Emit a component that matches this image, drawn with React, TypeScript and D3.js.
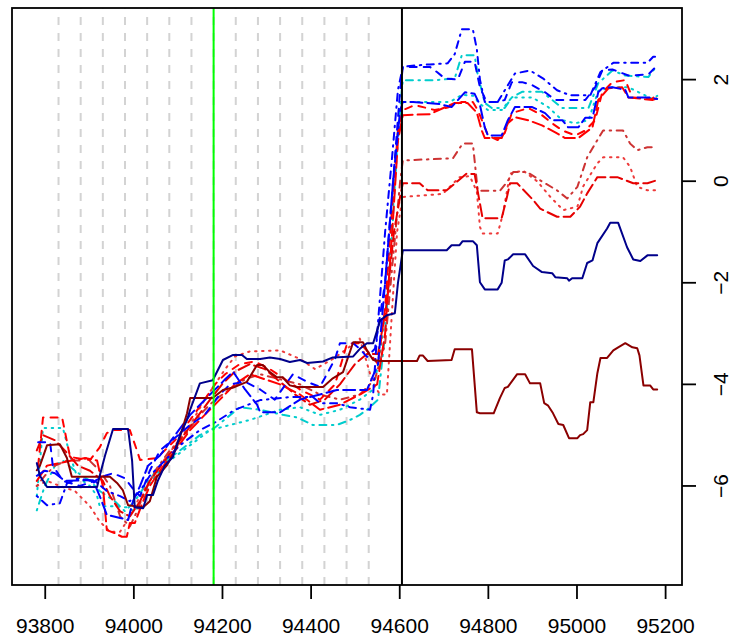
import React from "react";
import * as d3 from "d3";

type Pt = [number, number];

const xTicks = [93800, 94000, 94200, 94400, 94600, 94800, 95000, 95200];
const yTicks = [-6, -4, -2, 0, 2];
const grayLines = [93830, 93880, 93930, 93980, 94030, 94080, 94130, 94180, 94230, 94280, 94330, 94380, 94430, 94480, 94530];
const greenLine = 94180;
const blackLine = 94605;

const navySolid: Pt[] = [[93781,-5.55],[93788,-5.8],[93804,-6.02],[93917,-6.02],[93923,-5.8],[93935,-5.4],[93953,-4.88],[93987,-4.88],[93996,-5.5],[94002,-6.42],[94021,-6.44],[94030,-6.18],[94043,-6.18],[94054,-5.9],[94070,-5.6],[94088,-5.43],[94104,-5.0],[94120,-4.7],[94127,-4.5],[94149,-3.98],[94178,-3.92],[94201,-3.52],[94224,-3.42],[94244,-3.42],[94255,-3.5],[94285,-3.5],[94307,-3.47],[94330,-3.5],[94352,-3.56],[94375,-3.52],[94391,-3.58],[94427,-3.55],[94449,-3.47],[94495,-3.45],[94510,-3.3],[94526,-3.19],[94540,-3.19],[94556,-2.74],[94571,-2.64],[94589,-2.6],[94596,-2.0],[94607,-1.36],[94706,-1.36],[94717,-1.26],[94735,-1.26],[94742,-1.18],[94765,-1.18],[94774,-1.26],[94781,-1.99],[94792,-2.13],[94821,-2.13],[94830,-2.0],[94837,-1.56],[94844,-1.54],[94856,-1.44],[94883,-1.44],[94901,-1.67],[94921,-1.79],[94944,-1.81],[94951,-1.89],[94978,-1.91],[94982,-1.96],[94989,-1.91],[95012,-1.91],[95023,-1.61],[95035,-1.56],[95046,-1.22],[95068,-0.93],[95075,-0.82],[95093,-0.82],[95113,-1.3],[95127,-1.54],[95143,-1.57],[95159,-1.46],[95181,-1.46]];

const darkredSolid: Pt[] = [[93781,-5.69],[93788,-5.6],[93804,-5.2],[93833,-5.18],[93849,-5.45],[93860,-5.82],[93946,-5.82],[93962,-5.94],[93975,-6.08],[93987,-6.38],[94021,-6.42],[94036,-6.3],[94052,-5.82],[94075,-5.59],[94097,-5.24],[94120,-4.57],[94127,-4.27],[94178,-4.27],[94188,-4.2],[94201,-4.11],[94228,-4.05],[94255,-3.95],[94278,-3.62],[94291,-3.62],[94307,-3.76],[94323,-3.86],[94336,-3.86],[94352,-4.02],[94368,-4.05],[94427,-4.05],[94449,-3.88],[94472,-3.76],[94495,-3.17],[94517,-3.17],[94526,-3.33],[94540,-3.52],[94556,-3.54],[94639,-3.54],[94645,-3.43],[94652,-3.43],[94663,-3.54],[94717,-3.52],[94724,-3.31],[94763,-3.31],[94774,-4.55],[94781,-4.57],[94812,-4.57],[94826,-4.27],[94837,-4.07],[94844,-4.05],[94865,-3.8],[94883,-3.8],[94894,-3.98],[94917,-3.98],[94926,-4.37],[94935,-4.42],[94946,-4.57],[94958,-4.78],[94969,-4.8],[94982,-5.06],[95001,-5.06],[95007,-5.0],[95014,-4.98],[95023,-4.9],[95030,-4.35],[95037,-4.35],[95046,-3.78],[95053,-3.48],[95068,-3.48],[95082,-3.33],[95093,-3.27],[95109,-3.19],[95125,-3.27],[95136,-3.29],[95141,-3.43],[95150,-4.02],[95165,-4.02],[95172,-4.1],[95181,-4.1]];

const blueDotDash: Pt[] = [[93781,-6.2],[93804,-6.38],[93833,-6.34],[93849,-5.95],[93872,-5.86],[93912,-5.9],[93939,-6.1],[93969,-6.2],[93991,-6.3],[94014,-6.1],[94036,-5.8],[94070,-5.5],[94104,-5.2],[94149,-4.9],[94183,-4.75],[94228,-4.5],[94285,-4.31],[94352,-4.25],[94404,-4.25],[94420,-4.37],[94458,-4.37],[94488,-4.45],[94533,-4.5],[94540,-4.2],[94549,-3.0],[94567,-1.0],[94583,0.5],[94596,1.8],[94607,2.25],[94623,2.27],[94668,2.3],[94708,2.32],[94724,2.5],[94740,2.99],[94765,2.99],[94774,2.6],[94781,2.0],[94792,1.56],[94821,1.56],[94837,1.79],[94860,2.12],[94894,2.18],[94924,2.02],[94955,1.79],[94985,1.69],[95030,1.69],[95053,2.15],[95082,2.33],[95159,2.33],[95172,2.45],[95181,2.45]];

const blueDashed: Pt[] = [[93784,-5.14],[93811,-5.14],[93817,-5.6],[93840,-5.9],[93878,-6.0],[93912,-5.9],[93935,-5.8],[93953,-5.75],[93980,-5.85],[94002,-6.1],[94014,-6.2],[94036,-5.7],[94059,-5.3],[94093,-5.05],[94127,-4.8],[94160,-4.6],[94194,-4.2],[94217,-4.0],[94251,-3.95],[94285,-4.1],[94318,-4.3],[94359,-3.8],[94391,-3.95],[94420,-4.05],[94454,-3.5],[94465,-3.19],[94495,-3.19],[94510,-3.3],[94526,-3.46],[94544,-3.3],[94567,-2.0],[94585,0.0],[94601,1.8],[94607,2.25],[94668,2.25],[94684,2.15],[94702,2.02],[94731,2.0],[94747,2.35],[94769,2.35],[94781,1.85],[94796,1.56],[94821,1.56],[94837,1.6],[94853,1.95],[94876,1.95],[94899,1.89],[94928,1.75],[94951,1.6],[95019,1.6],[95041,1.85],[95057,2.18],[95080,2.2],[95116,2.08],[95161,2.1],[95181,2.28]];

const cyanDotDash: Pt[] = [[93781,-6.48],[93799,-6.0],[93822,-5.6],[93840,-5.5],[93867,-5.7],[93901,-5.9],[93923,-6.1],[93957,-6.3],[93980,-6.5],[94002,-6.3],[94025,-6.0],[94059,-5.6],[94104,-5.3],[94149,-5.0],[94183,-4.85],[94239,-4.45],[94285,-4.5],[94336,-4.6],[94368,-4.65],[94404,-4.8],[94458,-4.8],[94488,-4.7],[94510,-4.6],[94526,-4.5],[94551,-4.3],[94567,-3.0],[94583,-1.0],[94596,1.0],[94607,1.99],[94679,1.99],[94724,2.02],[94740,2.48],[94769,2.48],[94776,2.1],[94792,1.54],[94808,1.44],[94837,1.44],[94853,1.65],[94876,1.76],[94921,1.76],[94944,1.6],[94967,1.44],[95026,1.44],[95048,1.93],[95080,2.18],[95109,2.08],[95161,2.05],[95181,2.28]];

const blueLongDash: Pt[] = [[93781,-5.8],[93799,-5.7],[93822,-5.75],[93844,-5.9],[93878,-5.89],[93908,-5.89],[93923,-6.2],[93939,-6.57],[93969,-6.63],[93987,-6.67],[93998,-6.3],[94014,-6.0],[94032,-5.6],[94059,-5.4],[94093,-5.0],[94127,-4.6],[94172,-4.2],[94206,-3.9],[94224,-3.75],[94251,-4.1],[94278,-4.4],[94285,-4.55],[94330,-4.55],[94375,-4.3],[94420,-4.2],[94458,-4.11],[94526,-4.11],[94551,-3.6],[94567,-2.0],[94585,0.0],[94601,1.4],[94607,1.56],[94630,1.56],[94690,1.52],[94717,1.46],[94747,1.75],[94769,1.72],[94781,1.5],[94792,1.06],[94799,0.9],[94830,0.9],[94844,1.2],[94860,1.46],[94899,1.46],[94928,1.34],[94944,1.2],[94967,1.2],[94980,1.06],[95003,1.06],[95019,1.25],[95035,1.25],[95048,1.75],[95057,1.83],[95080,1.85],[95109,1.8],[95116,1.65],[95161,1.65],[95181,1.62]];

const cyanDotted: Pt[] = [[93781,-6.2],[93795,-4.86],[93840,-4.86],[93856,-5.4],[93872,-5.82],[93901,-6.0],[93917,-6.2],[93923,-6.4],[93957,-6.4],[93984,-6.42],[94002,-6.5],[94021,-6.2],[94048,-5.8],[94081,-5.5],[94127,-5.2],[94172,-4.9],[94217,-4.8],[94262,-4.7],[94330,-4.5],[94375,-4.45],[94420,-4.6],[94465,-4.5],[94510,-4.3],[94540,-4.1],[94556,-3.4],[94574,-2.0],[94589,0.0],[94601,1.3],[94607,1.56],[94713,1.56],[94740,1.7],[94769,1.68],[94776,1.56],[94799,1.4],[94830,1.4],[94853,1.65],[94899,1.65],[94935,1.46],[94967,1.2],[94996,1.14],[95026,1.2],[95048,1.78],[95080,1.85],[95116,1.85],[95170,1.62],[95181,1.68]];

const redDashed: Pt[] = [[93784,-5.6],[93795,-4.65],[93838,-4.65],[93856,-5.43],[93901,-5.49],[93923,-5.24],[93939,-4.96],[93953,-4.9],[93991,-4.9],[94007,-5.3],[94014,-5.49],[94052,-5.45],[94093,-5.1],[94127,-4.7],[94160,-4.3],[94183,-4.0],[94206,-3.8],[94239,-3.6],[94273,-3.55],[94307,-3.7],[94341,-3.9],[94375,-4.1],[94420,-4.3],[94454,-4.0],[94481,-3.2],[94510,-3.19],[94533,-3.4],[94551,-3.6],[94567,-2.5],[94583,-0.5],[94596,1.0],[94607,1.4],[94634,1.5],[94679,1.4],[94708,1.45],[94740,1.56],[94765,1.56],[94776,1.4],[94792,1.06],[94799,0.9],[94821,0.81],[94837,0.95],[94853,1.34],[94890,1.44],[94921,1.3],[94944,1.14],[94967,1.0],[94996,0.9],[95019,1.0],[95041,1.2],[95057,1.75],[95080,1.95],[95109,1.99],[95125,1.65],[95170,1.62],[95181,1.75]];

const redLongDash: Pt[] = [[93781,-5.9],[93804,-5.6],[93833,-5.55],[93860,-5.5],[93890,-5.45],[93917,-5.5],[93930,-6.0],[93939,-6.87],[93957,-6.93],[93973,-7.0],[93984,-7.0],[93991,-6.73],[94002,-6.73],[94021,-6.3],[94036,-6.0],[94059,-5.7],[94093,-5.3],[94127,-4.9],[94160,-4.6],[94194,-4.3],[94228,-4.0],[94262,-3.8],[94296,-3.9],[94330,-4.0],[94375,-4.2],[94420,-4.5],[94465,-4.4],[94510,-4.2],[94549,-4.0],[94567,-3.0],[94583,-1.0],[94596,0.8],[94607,1.3],[94668,1.32],[94724,1.54],[94753,1.54],[94774,1.35],[94785,1.0],[94792,0.85],[94830,0.85],[94844,1.14],[94860,1.26],[94890,1.2],[94921,1.1],[94951,0.96],[94973,0.85],[95003,0.85],[95035,1.06],[95048,1.6],[95071,1.83],[95102,1.85],[95116,1.65],[95170,1.6],[95181,1.63]];

const brickDotDash: Pt[] = [[93781,-6.0],[93799,-5.8],[93822,-5.6],[93849,-5.5],[93878,-5.5],[93894,-5.45],[93923,-5.7],[93946,-6.0],[93969,-6.6],[93991,-6.8],[94007,-6.5],[94025,-6.1],[94048,-5.7],[94081,-5.3],[94115,-5.0],[94149,-4.6],[94183,-4.3],[94217,-4.1],[94251,-3.9],[94285,-3.8],[94330,-3.9],[94375,-4.0],[94420,-4.2],[94465,-4.3],[94510,-4.2],[94544,-3.9],[94567,-3.2],[94585,-1.5],[94601,0.0],[94607,0.41],[94720,0.45],[94742,0.74],[94765,0.74],[94776,-0.18],[94787,-0.19],[94826,-0.19],[94842,-0.02],[94856,0.18],[94887,0.18],[94924,-0.02],[94955,-0.18],[94978,-0.34],[95001,-0.11],[95023,0.47],[95046,0.81],[95059,1.0],[95104,1.0],[95120,0.74],[95136,0.61],[95159,0.67],[95181,0.67]];

const redLongDash2: Pt[] = [[93781,-5.3],[93795,-5.0],[93822,-5.1],[93844,-5.3],[93874,-5.6],[93901,-5.7],[93930,-5.9],[93946,-6.2],[93969,-6.5],[93991,-6.6],[94014,-6.3],[94036,-5.9],[94070,-5.5],[94104,-5.1],[94138,-4.7],[94172,-4.3],[94199,-4.0],[94228,-3.75],[94262,-3.6],[94296,-3.7],[94330,-3.95],[94364,-4.2],[94397,-4.4],[94431,-4.3],[94465,-4.0],[94499,-3.6],[94526,-3.4],[94551,-3.4],[94569,-2.5],[94587,-1.0],[94601,-0.3],[94607,-0.04],[94645,-0.04],[94663,-0.18],[94706,-0.18],[94751,0.15],[94769,0.14],[94781,-0.44],[94787,-0.73],[94830,-0.73],[94842,-0.31],[94849,-0.04],[94865,-0.04],[94901,-0.37],[94917,-0.54],[94955,-0.7],[94985,-0.7],[95007,-0.5],[95023,-0.24],[95046,0.08],[95091,0.08],[95127,-0.04],[95159,-0.04],[95181,0.02]];

const redDotted: Pt[] = [[93781,-6.0],[93804,-5.9],[93833,-6.0],[93867,-6.1],[93901,-6.4],[93923,-6.7],[93946,-6.9],[93969,-6.9],[93991,-6.6],[94014,-6.2],[94036,-5.9],[94059,-5.6],[94093,-5.2],[94127,-4.8],[94160,-4.3],[94183,-4.0],[94206,-3.7],[94228,-3.45],[94262,-3.35],[94330,-3.33],[94375,-3.5],[94409,-3.7],[94449,-3.5],[94481,-3.3],[94510,-3.1],[94540,-4.0],[94556,-4.2],[94571,-4.2],[94583,-2.5],[94594,-1.0],[94603,-0.5],[94607,-0.31],[94697,-0.25],[94735,0.08],[94758,0.1],[94774,-0.2],[94781,-0.9],[94787,-1.03],[94821,-1.03],[94833,-0.64],[94849,0.15],[94878,0.21],[94910,0.0],[94940,-0.31],[94969,-0.57],[95001,-0.5],[95014,-0.1],[95046,0.35],[95059,0.47],[95104,0.47],[95120,0.28],[95136,-0.11],[95159,-0.18],[95181,-0.18]];

const DASH = "7,7";
const DOTTED = "1.5,5.5";
const DOTDASH = "1.5,5.5,7,5.5";
const LONGDASH = "12,5";

const series = [
  { data: cyanDotted, color: "#00CDCD", dash: DOTTED },
  { data: cyanDotDash, color: "#00CDCD", dash: DOTDASH },
  { data: redDotted, color: "#EE3B3B", dash: DOTTED },
  { data: brickDotDash, color: "#CD3333", dash: DOTDASH },
  { data: redLongDash2, color: "#E60000", dash: LONGDASH },
  { data: redLongDash, color: "#FF0000", dash: LONGDASH },
  { data: redDashed, color: "#FF0000", dash: DASH },
  { data: blueLongDash, color: "#0000FF", dash: LONGDASH },
  { data: blueDashed, color: "#0000FF", dash: DASH },
  { data: blueDotDash, color: "#0000FF", dash: DOTDASH },
  { data: darkredSolid, color: "#8B0000", dash: null },
  { data: navySolid, color: "#00008B", dash: null },
];

const W = 747;
const H = 638;
const L = 12, R = 682, T = 8, B = 585;

export default function App() {
  const x = d3.scaleLinear().domain([93725, 95237]).range([L, R]);
  const y = d3.scaleLinear().domain([-7.95, 3.41]).range([B, T]);
  const line = d3.line<Pt>().x((d) => x(d[0])).y((d) => y(d[1]));
  const font = "'Liberation Sans', Arial, Helvetica, sans-serif";
  return (
    <svg width={W} height={H} style={{ position: "absolute", left: 0, top: 0, display: "block", background: "#fff" }}>
      <rect x={0} y={0} width={W} height={H} fill="#fff" />
      <defs>
        <clipPath id="plot">
          <rect x={L} y={T} width={R - L} height={B - T} />
        </clipPath>
      </defs>
      {grayLines.map((g) => (
        <line key={g} x1={x(g)} x2={x(g)} y1={B} y2={T} stroke="#D3D3D3" strokeWidth={2} strokeDasharray="8,8" />
      ))}
      <g clipPath="url(#plot)">
        {series.map((s, i) => (
          <path key={i} d={line(s.data) || ""} fill="none" stroke={s.color} strokeWidth={2}
            strokeDasharray={s.dash || undefined} strokeLinecap="round" strokeLinejoin="round" />
        ))}
      </g>
      <line x1={x(greenLine)} x2={x(greenLine)} y1={T} y2={B} stroke="#00FF00" strokeWidth={2} />
      <line x1={x(blackLine)} x2={x(blackLine)} y1={T} y2={B} stroke="#000" strokeWidth={2} />
      <rect x={L} y={T} width={R - L} height={B - T} fill="none" stroke="#000" strokeWidth={1.8} />
      {xTicks.map((t) => (
        <g key={t}>
          <line x1={x(t)} x2={x(t)} y1={B} y2={B + 14} stroke="#000" strokeWidth={1.8} />
          <text x={x(t)} y={633} textAnchor="middle" fontFamily={font} fontSize={21} fill="#000">{t}</text>
        </g>
      ))}
      {yTicks.map((t) => (
        <g key={t}>
          <line x1={R} x2={R + 14} y1={y(t)} y2={y(t)} stroke="#000" strokeWidth={1.8} />
          <text transform={`translate(728,${y(t)}) rotate(-90)`} textAnchor="middle" fontFamily={font} fontSize={21} fill="#000">
            {t < 0 ? "\u2212" + Math.abs(t) : String(t)}
          </text>
        </g>
      ))}
    </svg>
  );
}
